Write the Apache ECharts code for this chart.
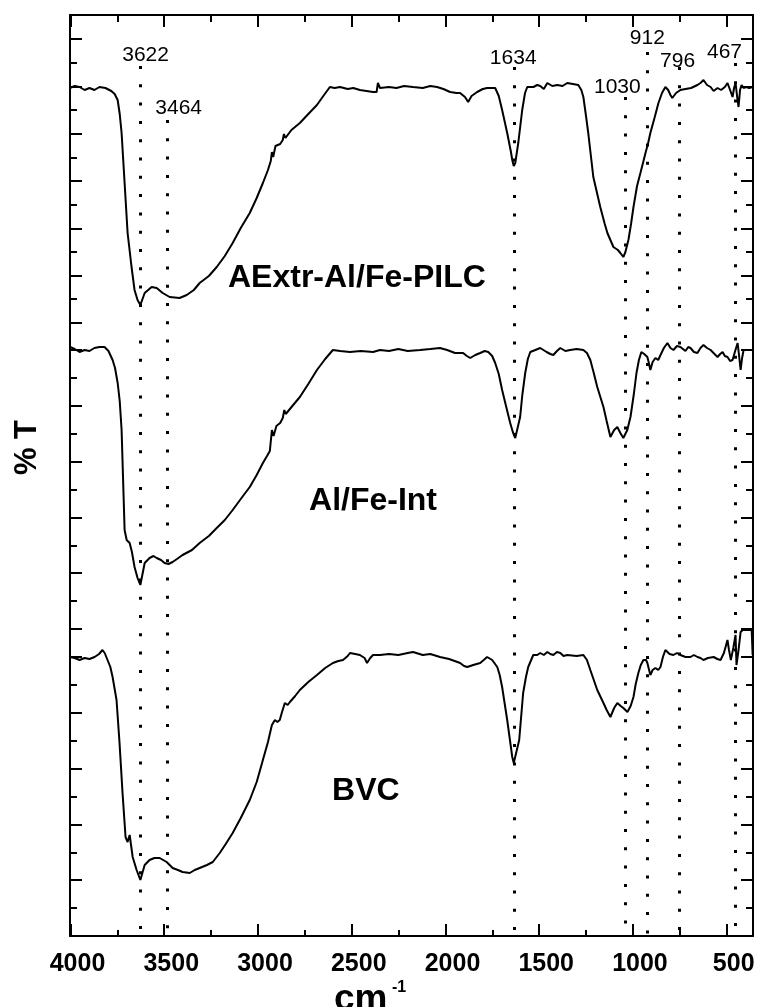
<!DOCTYPE html>
<html><head><meta charset="utf-8">
<script src="https://cdn.jsdelivr.net/npm/echarts@6/dist/echarts.min.js"></script>
<style>html,body{margin:0;padding:0;background:#fff}#c{width:758px;height:1007px}</style>
</head><body><div id="c"></div>
<script>
// ---- data: [wavenumber (cm-1), %T (offset, arbitrary)] ----
const aextr = [
[4000,84.8],[3975,85.0],[3949,84.9],[3922,84.6],[3896,84.8],[3870,84.6],[3843,84.9],[3811,84.8],[3780,84.5],[3762,84.2],[3746,83.6],[3735,82.2],[3725,80.3],[3709,75.3],[3693,70.3],[3672,66.9],[3656,64.6],[3640,63.6],[3625,63.1],[3602,64.3],[3565,64.9],[3538,64.8],[3506,64.3],[3469,63.9],[3416,63.8],[3378,64.1],[3340,64.6],[3309,65.3],[3260,66.0],[3218,66.9],[3175,68.0],[3133,69.3],[3090,70.8],[3042,72.3],[3005,73.8],[2972,75.3],[2945,76.6],[2930,77.5],[2924,78.4],[2917,77.9],[2905,79.0],[2880,79.2],[2866,79.6],[2860,80.2],[2852,79.8],[2820,80.6],[2775,81.3],[2730,82.2],[2684,83.1],[2650,84.0],[2615,84.9],[2590,84.8],[2561,84.9],[2520,84.7],[2490,84.8],[2455,84.6],[2420,84.5],[2385,84.4],[2366,84.4],[2359,85.3],[2348,84.8],[2300,84.9],[2260,84.8],[2220,85.0],[2172,84.9],[2120,84.8],[2080,85.0],[2044,84.9],[2010,84.7],[1974,84.4],[1940,84.3],[1921,84.3],[1895,83.9],[1878,83.4],[1860,84.0],[1830,84.4],[1800,84.7],[1777,84.8],[1755,84.8],[1734,84.8],[1715,84.0],[1697,82.6],[1670,80.3],[1650,78.4],[1643,77.6],[1635,77.0],[1627,77.3],[1611,79.3],[1590,82.6],[1575,84.3],[1563,84.9],[1530,84.9],[1510,85.1],[1494,85.0],[1475,84.7],[1456,85.3],[1430,85.0],[1403,85.1],[1375,85.0],[1350,85.3],[1320,85.2],[1291,85.1],[1275,84.6],[1264,83.9],[1250,82.0],[1238,80.3],[1211,75.9],[1190,74.2],[1174,72.9],[1150,71.2],[1136,70.3],[1104,68.9],[1080,68.6],[1067,68.3],[1051,67.9],[1040,68.4],[1024,69.6],[1010,71.2],[997,72.9],[978,75.0],[960,76.3],[945,77.4],[933,78.3],[920,79.2],[907,80.3],[885,81.8],[864,83.3],[845,84.3],[827,84.9],[812,84.6],[800,84.1],[790,83.8],[784,83.8],[770,84.3],[747,84.6],[720,84.7],[690,84.8],[656,85.1],[640,85.3],[624,85.6],[605,85.1],[586,84.9],[570,84.5],[549,84.8],[530,84.6],[510,84.9],[496,85.3],[482,84.6],[469,83.9],[461,84.8],[453,85.3],[445,84.0],[437,82.9],[429,84.6],[421,85.1],[410,84.8],[399,84.9],[380,84.8],[362,84.9]
];
const alfeInt = [
[4000,58.9],[3975,58.7],[3949,58.4],[3922,58.6],[3896,58.5],[3870,58.8],[3843,58.9],[3816,58.9],[3795,58.5],[3773,57.6],[3760,56.8],[3746,55.3],[3735,53.5],[3725,50.6],[3709,40.6],[3698,39.6],[3682,39.3],[3670,38.4],[3656,36.9],[3640,35.8],[3625,35.1],[3602,37.3],[3576,37.8],[3555,38.0],[3538,37.8],[3515,37.6],[3496,37.3],[3475,37.2],[3453,37.4],[3430,37.7],[3400,38.1],[3350,38.6],[3309,39.3],[3260,40.0],[3218,40.8],[3175,41.6],[3133,42.6],[3090,43.7],[3042,44.9],[3005,46.1],[2972,47.3],[2950,48.0],[2935,48.5],[2924,50.6],[2915,50.0],[2900,51.0],[2880,51.3],[2866,51.8],[2858,52.6],[2850,52.2],[2815,53.0],[2775,53.9],[2730,55.2],[2684,56.6],[2640,57.7],[2599,58.6],[2560,58.5],[2508,58.4],[2450,58.5],[2385,58.4],[2348,58.6],[2300,58.5],[2250,58.7],[2200,58.5],[2134,58.6],[2080,58.7],[2028,58.8],[1990,58.6],[1948,58.3],[1905,58.3],[1885,58.0],[1867,57.8],[1840,58.1],[1814,58.3],[1790,58.5],[1771,58.4],[1750,58.0],[1734,57.3],[1715,56.2],[1697,54.6],[1675,52.9],[1654,51.3],[1640,50.4],[1627,49.8],[1601,51.9],[1590,54.0],[1574,56.3],[1560,57.7],[1547,58.4],[1520,58.6],[1494,58.8],[1460,58.4],[1440,58.2],[1424,58.1],[1405,58.5],[1387,58.8],[1360,58.5],[1334,58.6],[1300,58.7],[1264,58.6],[1245,58.3],[1227,57.6],[1210,56.4],[1190,54.9],[1157,52.9],[1140,51.5],[1120,49.9],[1100,50.6],[1083,50.9],[1067,50.3],[1051,49.8],[1030,50.6],[1013,51.9],[995,54.2],[981,56.3],[968,57.6],[955,58.4],[940,58.2],[923,57.9],[915,57.3],[907,56.6],[895,57.4],[880,57.8],[865,57.6],[853,58.1],[835,58.8],[816,59.3],[800,58.8],[784,58.6],[765,59.0],[747,58.9],[720,58.5],[705,58.9],[693,58.8],[675,58.4],[656,58.3],[640,58.8],[624,59.1],[605,58.8],[586,58.6],[565,58.2],[549,57.9],[535,58.2],[522,58.4],[510,58.0],[496,57.9],[482,57.5],[469,57.6],[455,58.5],[442,59.3],[434,58.0],[426,56.6],[418,57.8],[410,58.6],[390,58.6],[362,58.6]
];
const bvc = [
[4000,27.9],[3975,27.8],[3949,27.6],[3922,27.8],[3896,27.7],[3869,27.9],[3845,28.2],[3827,28.6],[3815,28.3],[3805,28.1],[3800,27.6],[3785,26.9],[3773,25.9],[3752,23.6],[3736,19.3],[3720,14.3],[3704,9.9],[3693,9.4],[3682,10.1],[3666,7.9],[3645,6.6],[3625,5.6],[3602,7.1],[3576,7.6],[3550,7.8],[3522,7.8],[3485,7.4],[3453,6.8],[3425,6.6],[3400,6.4],[3362,6.3],[3335,6.6],[3309,6.8],[3270,7.1],[3239,7.4],[3202,8.3],[3170,9.2],[3133,10.3],[3090,11.8],[3042,13.6],[3005,15.4],[2972,17.6],[2945,19.4],[2924,21.1],[2908,21.6],[2895,21.4],[2882,21.6],[2870,22.4],[2855,23.3],[2840,23.1],[2828,23.4],[2800,24.0],[2775,24.6],[2730,25.4],[2684,26.1],[2640,26.8],[2599,27.3],[2570,27.5],[2545,27.6],[2520,28.0],[2508,28.3],[2480,28.2],[2455,28.1],[2430,27.8],[2417,27.3],[2400,27.8],[2385,28.1],[2348,28.1],[2300,28.2],[2250,28.1],[2200,28.3],[2172,28.4],[2120,28.1],[2080,28.2],[2028,27.9],[1980,27.7],[1950,27.5],[1921,27.3],[1900,27.0],[1883,26.9],[1851,27.1],[1814,27.3],[1795,27.6],[1777,27.9],[1750,27.6],[1723,26.9],[1710,26.1],[1697,24.9],[1670,21.6],[1643,17.9],[1635,17.3],[1627,17.3],[1606,19.6],[1585,24.3],[1570,25.9],[1558,26.9],[1531,28.1],[1510,28.1],[1494,28.3],[1475,28.1],[1456,28.4],[1440,28.2],[1424,28.1],[1405,28.4],[1387,28.3],[1370,28.0],[1350,28.1],[1300,28.0],[1264,28.1],[1245,27.6],[1227,26.6],[1190,24.6],[1157,23.3],[1140,22.6],[1120,21.9],[1100,22.8],[1083,23.3],[1065,23.0],[1051,22.8],[1029,22.4],[1012,23.0],[997,23.9],[985,25.2],[971,26.3],[958,27.1],[944,27.6],[930,27.6],[923,27.3],[915,26.7],[907,26.1],[895,26.6],[880,26.8],[865,26.6],[853,26.9],[840,27.9],[827,28.6],[805,28.2],[784,28.1],[765,28.3],[747,28.1],[720,27.9],[693,27.9],[675,28.1],[656,27.9],[640,27.8],[624,27.6],[600,27.8],[570,27.9],[550,27.7],[533,27.6],[515,28.3],[496,29.6],[488,28.6],[478,27.6],[465,28.8],[453,30.1],[448,27.1],[437,28.6],[426,30.4],[415,30.6],[383,30.6],[367,30.6],[362,28.1]
];
// peak markers: label, line position (cm-1), top of dotted line (%T), label position [cm-1, %T]
const peakNames = ['3622','3464','1634','1030','912','796','467'];
const peakLineX = [3625,3481,1635,1040,921,752,454];
const peakLineTop = [87.0,81.6,86.9,83.9,88.4,86.9,87.3];
const peakLabelPos = [[3597,88.1],[3421,82.8],[1638,87.8],[1083,84.9],[923,89.8],[762,87.5],[512,88.4]];
// sample names and their positions [cm-1, %T]
const sampleNames = ['AExtr-Al/Fe-PILC','Al/Fe-Int','BVC'];
const samplePos = [[2471,65.8],[2385,43.5],[2423,14.5]];
const xTicks = {min:500, max:4000, step:500};

const chart = echarts.init(document.getElementById('c'), null, {renderer:'canvas'});
const black = '#000';
const FONT = '"Liberation Sans", Arial, sans-serif';

// y tick segments (left and right frame): [top px, height px, count-of-intervals, tick length]
const tickSegs = [
  [39,284,6,12],[63,236,5,7],
  [350,279,5,12],[378,223,4,7],
  [657,279,5,12],[685,223,4,7]
];
const grids = [
  {left:70, right:5, top:15, bottom:71},
  {left:70.5, right:31.3, top:15, bottom:71}
];
const xAxes = [
  {gridIndex:0, type:'value', min:360, max:4000, inverse:true, position:'bottom',
   axisLine:{show:true, onZero:false, lineStyle:{color:black,width:2}}, axisTick:{show:false}, axisLabel:{show:false}, splitLine:{show:false}},
  {gridIndex:0, type:'value', min:360, max:4000, inverse:true, position:'top',
   axisLine:{show:true, onZero:false, lineStyle:{color:black,width:2}}, axisTick:{show:false}, axisLabel:{show:false}, splitLine:{show:false}},
  {gridIndex:1, type:'value', min:xTicks.min, max:xTicks.max, interval:xTicks.step, inverse:true, position:'bottom',
   axisLine:{show:false}, axisTick:{show:true, inside:true, length:12, lineStyle:{color:black,width:2}},
   minorTick:{show:true, splitNumber:2, length:6, lineStyle:{color:black,width:2}},
   axisLabel:{show:true, color:black, fontSize:25, fontWeight:'bold', fontFamily:FONT, margin:16, padding:[0,0,0,14],
     formatter:v=>String(v)},
   splitLine:{show:false}},
  {gridIndex:1, type:'value', min:xTicks.min, max:xTicks.max, interval:xTicks.step, inverse:true, position:'top',
   axisLine:{show:false}, axisTick:{show:true, inside:true, length:12, lineStyle:{color:black,width:2}},
   minorTick:{show:true, splitNumber:2, length:7, lineStyle:{color:black,width:2}},
   axisLabel:{show:false}, splitLine:{show:false}}
];
const yAxes = [
  {gridIndex:0, type:'value', min:0, max:92.1, position:'left',
   axisLine:{show:true, lineStyle:{color:black,width:2}}, axisTick:{show:false}, axisLabel:{show:false}, splitLine:{show:false}},
  {gridIndex:0, type:'value', min:0, max:92.1, position:'right',
   axisLine:{show:true, lineStyle:{color:black,width:2}}, axisTick:{show:false}, axisLabel:{show:false}, splitLine:{show:false}},
  {gridIndex:1, type:'value', show:false, min:0, max:1}
];
tickSegs.forEach((s, i) => {
  const gi = grids.length;
  grids.push({left:70, right:5, top:s[0], height:s[1]});
  xAxes.push({gridIndex:gi, type:'value', show:false, min:0, max:1});
  ['left','right'].forEach(pos => yAxes.push({
    gridIndex:gi, type:'value', min:0, max:s[2], interval:1, position:pos,
    axisLine:{show:false}, axisTick:{show:true, inside:true, length:s[3], lineStyle:{color:black,width:2}},
    axisLabel:{show:false}, splitLine:{show:false}
  }));
});

const lineSeries = (name, data) => ({
  name, type:'line', xAxisIndex:0, yAxisIndex:0, data, showSymbol:false, symbol:'none',
  lineStyle:{color:black, width:2}, silent:true, z:3
});

const option = {
  animation:false,
  backgroundColor:'#fff',
  grid:grids, xAxis:xAxes, yAxis:yAxes,
  series:[
    lineSeries('AExtr-Al/Fe-PILC', aextr),
    lineSeries('Al/Fe-Int', alfeInt),
    lineSeries('BVC', bvc),
    {type:'line', xAxisIndex:0, yAxisIndex:0, data:[], silent:true,
     markLine:{silent:true, symbol:['none','none'], label:{show:false},
       lineStyle:{color:black, width:3, type:[3,15.3], cap:'butt', opacity:1},
       data: peakLineX.map((x,i)=>[{coord:[x, peakLineTop[i]]},{coord:[x, 0]}])}},
    {type:'scatter', xAxisIndex:0, yAxisIndex:0, symbolSize:0, silent:true, itemStyle:{opacity:1},
     data: peakNames.map((n,i)=>({name:n, value:peakLabelPos[i]})),
     label:{show:true, position:'inside', formatter:'{b}', color:'#000', fontSize:21, fontFamily:FONT}},
    {type:'scatter', xAxisIndex:0, yAxisIndex:0, symbolSize:0, silent:true, itemStyle:{opacity:1},
     data: sampleNames.map((n,i)=>({name:n, value:samplePos[i]})),
     label:{show:true, position:'inside', formatter:'{b}', color:black, fontSize:32, fontWeight:'bold', fontFamily:FONT}}
  ],
  graphic:[
    {type:'text', left:12, top:420, rotation:Math.PI/2, style:{text:'% T', fill:black, font:'bold 31px '+FONT}},
    {type:'text', left:334, top:981, style:{text:'cm', fill:black, font:'bold 37px '+FONT}},
    {type:'text', left:392, top:980, style:{text:'-1', fill:black, font:'bold 16px '+FONT}}
  ]
};
chart.setOption(option);
</script></body></html>
